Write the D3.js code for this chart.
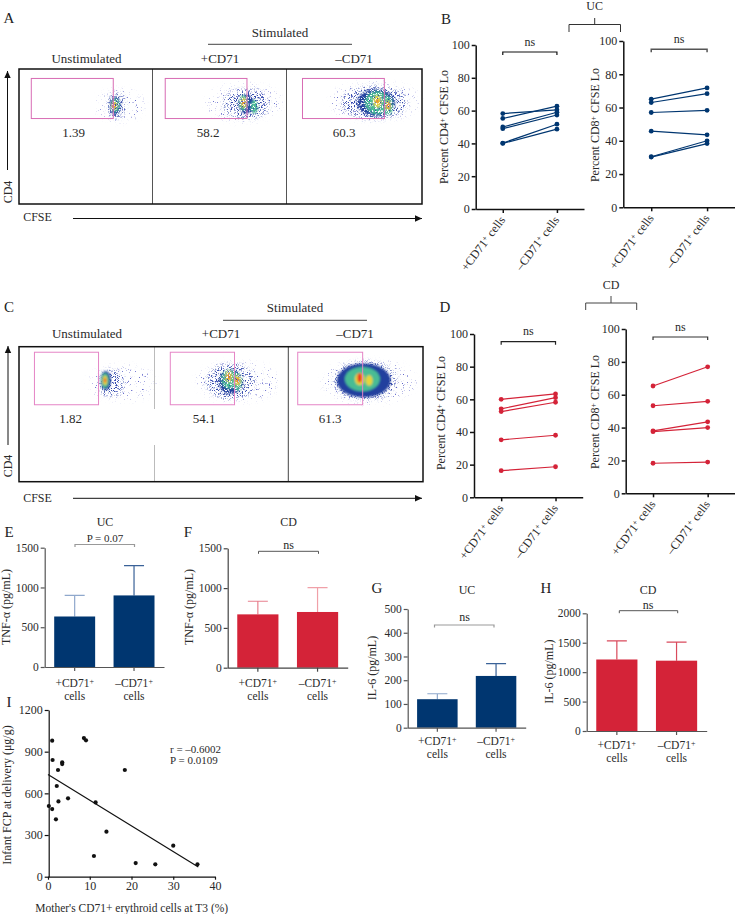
<!DOCTYPE html>
<html lang="en">
<head>
<meta charset="utf-8">
<title>CD71 erythroid cells figure</title>
<script src="https://d3js.org/d3.v7.min.js"></script>
<style>
body { margin: 0; background: #fff; }
svg { display: block; }
text { font-family: "Liberation Serif", serif; fill: #2a2a2a; font-size: 12px; }
.tick text { font-size: 12px; }
.small text, .small .tick text { font-size: 11.5px; }
.letter { font-size: 15px; fill: #222; }
</style>
</head>
<body>
<svg id="fig" width="735" height="914"></svg>
<script>
// categories
var cellTypes = ["+CD71", "-CD71"];
var flowTitles = ["Unstimulated", "+CD71", "\u2013CD71"];

// B / D paired values
var ucCd4Plus  = [58.2, 55.2, 50, 49, 40.2, 40];
var ucCd4Minus = [60.5, 62.7, 59, 57.3, 51.7, 48.7];
var ucCd8Plus  = [65, 63, 57, 45.8, 30.4, 30.2];
var ucCd8Minus = [71.8, 68.3, 58.3, 43.6, 40, 38.3];
var cdCd4Plus  = [60, 54.2, 52.5, 35.2, 16.3];
var cdCd4Minus = [63.3, 61, 58.2, 38, 18.7];
var cdCd8Plus  = [65.3, 53.3, 38, 37.5, 18.3];
var cdCd8Minus = [77, 56, 43.5, 40, 19];

// E-H mean and upper error
var tnfUcMean = [635, 900], tnfUcErr = [900, 1275];
var tnfCdMean = [670, 700], tnfCdErr = [835, 1005];
var il6UcMean = [120, 218], il6UcErr = [143, 270];
var il6CdMean = [1215, 1195], il6CdErr = [1530, 1510];

// I scatter
var t3Cells = [0.2, 1, 1.1, 1, 1.9, 2.1, 2.4, 2.5, 3.4, 3.4, 4.8, 8.6, 9.1, 11, 11.4, 14, 18.4, 21, 25.7, 30, 35.8];
var infantFcp = [509, 979, 840, 487, 413, 653, 768, 542, 823, 811, 564, 998, 982, 149, 535, 324, 768, 98, 89, 223, 89];
var fitX = [0, 36], fitY = [735, 70];

// flow gates: cfse low, cfse high, cd4 low, cd4 high (percent of each plot)
var gatesA = [[9.2, 70.6, 63.3, 93], [9.5, 70.5, 63.3, 93], [11.8, 72.2, 63.3, 93]];
var gatesC = [[11.4, 58.7, 57, 95.9], [11.8, 59.8, 57, 95.9], [7, 55.2, 57, 95.9]];
var percentsA = ["1.39", "58.2", "60.3"];
var percentsC = ["1.82", "54.1", "61.3"];

// flow populations as density contours: cfse, cd4, spread cfse, spread cd4, level
var flowA = [
  [[76, 73, 17, 11, 0], [73, 73, 6.5, 9.5, 1], [72, 73, 4, 7, 2], [72, 73, 3, 5, 3], [71.5, 73, 1.8, 2.8, 4], [71, 73, 0.9, 1.4, 5]],
  [[68, 75, 27, 13, 0], [70, 74, 17, 11, 1], [70, 74, 6, 7, 2], [76, 72, 2.6, 5, 3], [68, 75, 3.2, 5.5, 3], [68, 75, 1.8, 3.5, 4], [68, 75, 0.8, 1.6, 5]],
  [[65, 76, 33, 13, 0], [65, 75, 24, 12, 1], [66, 75, 14, 10, 2], [67, 75, 9, 8.5, 3], [75, 73, 3.5, 7, 3], [67, 76, 2.8, 4.5, 4], [75, 73, 1.8, 3.4, 4], [75, 73, 1, 2, 5], [67, 76, 0.8, 1.4, 5]]
];
var flowC = [
  [[76, 73, 24, 12, 0], [68, 73, 9, 10, 1], [64, 75, 3.8, 7, 2], [63.5, 75, 2.8, 5.5, 3], [63.5, 75, 1.6, 3.4, 4], [63.5, 75, 0.8, 1.6, 5]],
  [[62, 74, 30, 14, 0], [57, 74, 18, 13, 1], [57, 74, 9, 9, 2], [56, 76, 6, 7, 3], [62, 74, 3.5, 6.5, 3], [55.5, 78, 2.2, 4.2, 4], [62, 75, 2.2, 3.6, 4], [55.5, 78, 0.9, 2.2, 5], [62, 75, 0.9, 1.8, 5]],
  [[60, 74, 34, 15, 0], [57, 75, 23, 14, 1], [56, 75, 20, 12.5, 2], [55, 76, 13, 9, 3], [53, 76, 3.6, 4.5, 4], [60, 75, 2.6, 4, 4], [53, 77, 1.7, 3.6, 5]]
];

var svg = d3.select("#fig");
var navy = "#003670", red = "#d42338";
var levelColor = d3.scaleOrdinal().domain([0, 1, 2, 3, 4, 5])
  .range(["#5a5fc8", "#3348ac", "#24409e", "#48bc94", "#e6d53a", "#ec3520"]);

// grainy layers for the cell dots
var defs = svg.append("defs");
function grain(id, cut, blur, seed) {
  var f = defs.append("filter").attr("id", id).attr("filterUnits", "userSpaceOnUse")
    .attr("x", 0).attr("y", 0).attr("width", 735).attr("height", 914);
  f.append("feGaussianBlur").attr("in", "SourceGraphic").attr("stdDeviation", blur).attr("result", "b");
  f.append("feTurbulence").attr("type", "fractalNoise").attr("baseFrequency", 0.85).attr("numOctaves", 2).attr("seed", seed).attr("result", "n");
  f.append("feColorMatrix").attr("in", "n").attr("type", "matrix")
    .attr("values", "0 0 0 0 0  0 0 0 0 0  0 0 0 0 0  9 0 0 0 " + cut).attr("result", "m");
  f.append("feComposite").attr("in", "b").attr("in2", "m").attr("operator", "in");
}
grain("sparse", -5.9, 3, 4);
grain("dense", -4.9, 2, 9);
grain("mottled", -3.4, 1, 6);
defs.append("filter").attr("id", "soft").append("feGaussianBlur").attr("stdDeviation", 1.1);

function label(x, y, str, opts) {
  opts = opts || {};
  var t = svg.append("text").attr("x", x).attr("y", y).attr("text-anchor", opts.anchor || "middle").text(str);
  if (opts.size) t.style("font-size", opts.size + "px");
  if (opts.cls) t.attr("class", opts.cls);
  return t;
}

function vlabel(x, y, parts, size) {
  var t = svg.append("text").attr("transform", "translate(" + x + "," + y + ") rotate(-90)").attr("text-anchor", "middle");
  if (size) t.style("font-size", size + "px");
  parts.forEach(function(p) {
    var s = t.append("tspan").text(p[0]);
    if (p[1]) s.style("font-size", "8px").attr("dy", -3);
    else if (p[2]) s.attr("dy", 3);
  });
}

function arrow(x1, y1, x2, y2) {
  svg.append("line").attr("x1", x1).attr("y1", y1).attr("x2", x2).attr("y2", y2)
    .attr("stroke", "#111").attr("stroke-width", 1);
  var a = Math.atan2(y2 - y1, x2 - x1);
  var p = [[0, 0], [-7, -3.2], [-7, 3.2]].map(function(d) {
    return [x2 + d[0] * Math.cos(a) - d[1] * Math.sin(a), y2 + d[0] * Math.sin(a) + d[1] * Math.cos(a)];
  });
  svg.append("polygon").attr("points", p.join(" ")).attr("fill", "#111");
}

function blobs(g, x, y, rows) {
  g.selectAll("ellipse").data(rows).enter().append("ellipse")
    .attr("cx", function(d) { return x(d[0]); }).attr("cy", function(d) { return y(d[1]); })
    .attr("rx", function(d) { return x(d[2]) - x(0); }).attr("ry", function(d) { return y(0) - y(d[3]); })
    .attr("fill", function(d) { return levelColor(d[4]); });
}

// one row of three flow plots with a shared frame
function flowRow(left, top, right, bottom, dividers, gates, pops, percents, titleY, titleXs, pctY, pctXs, gateColor, coreFilters) {
  var edges = [left].concat(dividers.map(function(d) { return d.x; })).concat([right]);
  pops.forEach(function(pop, i) {
    var x = d3.scaleLinear().domain([0, 100]).range([edges[i], edges[i + 1]]);
    var y = d3.scaleLinear().domain([0, 100]).range([bottom, top]);
    var g = svg.append("g");
    [["sparse", 0], ["dense", 1]].forEach(function(l) {
      blobs(g.append("g").attr("filter", "url(#" + l[0] + ")"), x, y, pop.filter(function(d) { return d[4] === l[1]; }));
    });
    blobs(g.append("g").attr("filter", "url(#" + coreFilters[i] + ")"), x, y, pop.filter(function(d) { return d[4] > 1; }));
    var gt = gates[i];
    svg.append("rect").attr("x", x(gt[0])).attr("y", y(gt[3]))
      .attr("width", x(gt[1]) - x(gt[0])).attr("height", y(gt[2]) - y(gt[3]))
      .attr("fill", "none").attr("stroke", gateColor).attr("stroke-width", 1);
    label(titleXs[i], titleY, flowTitles[i], { size: 13 });
    label(pctXs[i], pctY, percents[i], { size: 13 });
  });
  dividers.forEach(function(d) {
    d.spans.forEach(function(s) {
      svg.append("line").attr("x1", d.x).attr("x2", d.x).attr("y1", s[0]).attr("y2", s[1])
        .attr("stroke", d.color).attr("stroke-width", 1);
    });
  });
  svg.append("rect").attr("x", left).attr("y", top).attr("width", right - left).attr("height", bottom - top)
    .attr("fill", "none").attr("stroke", "#111").attr("stroke-width", 1.5);
}

function bracket(x1, x2, y, drop, color, width) {
  svg.append("path").attr("d", "M" + x1 + "," + (y + drop) + "V" + y + "H" + x2 + "V" + (y + drop))
    .attr("fill", "none").attr("stroke", color).attr("stroke-width", width);
}

function yAxis(g, y, ticks, axisColor, w) {
  var a = g.call(d3.axisLeft(y).tickValues(ticks).tickFormat(d3.format("d")).tickSize(4).tickSizeOuter(0).tickPadding(2));
  a.selectAll("path,line").attr("stroke", axisColor).attr("stroke-width", w);
  a.selectAll("text").attr("fill", "#333");
}

// paired before/after panel, B and D
function pairPanel(x0, x1, y100, y0, plus, minus, color, cdNum, yLabelX, yLabelY, brY, brColor, brW) {
  var x = d3.scalePoint().domain(cellTypes).range([x0, x1]).padding(0.5);
  var y = d3.scaleLinear().domain([0, 100]).range([y0, y100]);
  var g = svg.append("g");
  yAxis(g.append("g").attr("transform", "translate(" + x0 + ",0)"), y, [0, 20, 40, 60, 80, 100], "#111", 1.5);
  var ax = g.append("g").attr("transform", "translate(0," + y0 + ")")
    .call(d3.axisBottom(x).tickSize(4).tickSizeOuter(0).tickFormat(""));
  ax.selectAll("path,line").attr("stroke", "#111").attr("stroke-width", 1.5);

  var line = d3.line().x(function(d) { return x(d[0]); }).y(function(d) { return y(d[1]); });
  plus.forEach(function(v, i) {
    var pts = [[cellTypes[0], v], [cellTypes[1], minus[i]]];
    g.append("path").attr("d", line(pts)).attr("fill", "none").attr("stroke", color).attr("stroke-width", 1.2);
    g.selectAll(null).data(pts).enter().append("circle")
      .attr("cx", function(d) { return x(d[0]); }).attr("cy", function(d) { return y(d[1]); })
      .attr("r", 2.4).attr("fill", color);
  });

  cellTypes.forEach(function(c, i) {
    var t = g.append("text").attr("text-anchor", "end")
      .attr("transform", "translate(" + (x(c) + 3) + "," + (y0 + 11) + ") rotate(-53)");
    t.append("tspan").text((i ? "\u2013" : "+") + "CD71");
    t.append("tspan").text("+").style("font-size", "8px").attr("dy", -3);
    t.append("tspan").text(" cells").attr("dy", 3);
  });

  vlabel(yLabelX, yLabelY, [["Percent CD" + cdNum], ["+", 1], [" CFSE Lo", 0, 1]]);
  bracket(x(cellTypes[0]), x(cellTypes[1]), brY, 3, brColor, brW);
  label((x(cellTypes[0]) + x(cellTypes[1])) / 2, brY - 6.5, "ns");
}

// mean with upper error bar, E to H
function barPanel(x0, x1, yTop, y0, maxV, ticks, means, errs, color, errColors, axisColor, yLabelStr, yLabelX, yLabelY, catY) {
  var x = d3.scaleBand().domain(cellTypes).range([x0, x1]).paddingInner(0.31).paddingOuter(0.16);
  var y = d3.scaleLinear().domain([0, maxV]).range([y0, yTop]);
  var g = svg.append("g").attr("class", "small");
  cellTypes.forEach(function(c, i) {
    var cx = x(c) + x.bandwidth() / 2;
    g.append("path").attr("d", "M" + cx + "," + y(means[i]) + "V" + y(errs[i]) + "M" + (cx - 10) + "," + y(errs[i]) + "H" + (cx + 10))
      .attr("fill", "none").attr("stroke", errColors[i]).attr("stroke-width", 1.2);
    var tx = g.append("text").attr("x", cx).attr("y", catY).attr("text-anchor", "middle");
    tx.append("tspan").text((i ? "\u2013" : "+") + "CD71");
    tx.append("tspan").text("+").style("font-size", "8px").attr("dy", -3);
    g.append("text").attr("x", cx).attr("y", catY + 13).attr("text-anchor", "middle").text("cells");
  });
  g.selectAll("rect").data(means).enter().append("rect")
    .attr("x", function(d, i) { return x(cellTypes[i]); })
    .attr("y", function(d) { return y(d); })
    .attr("width", x.bandwidth())
    .attr("height", function(d) { return y0 - y(d); })
    .attr("fill", color);
  yAxis(g.append("g").attr("transform", "translate(" + x0 + ",0)"), y, ticks, axisColor, 1.2);
  var ax = g.append("g").attr("transform", "translate(0," + y0 + ")")
    .call(d3.axisBottom(x).tickSize(4).tickSizeOuter(0).tickFormat(""));
  ax.selectAll("path,line").attr("stroke", axisColor).attr("stroke-width", 1.2);
  vlabel(yLabelX, yLabelY, [[yLabelStr]]);
}

// ---- panel A ----
label(9, 23, "A", { cls: "letter" });
label(280, 36.5, "Stimulated", { size: 13 });
svg.append("line").attr("x1", 208).attr("x2", 352).attr("y1", 44.3).attr("y2", 44.3).attr("stroke", "#444");
flowRow(19, 69, 422, 204,
  [{ x: 152.5, color: "#555", spans: [[69, 204]] }, { x: 286.5, color: "#555", spans: [[69, 204]] }],
  gatesA, flowA, percentsA, 63, [86.5, 220, 354], 136.5, [73.5, 208, 344], "#d86cb4", ["mottled", "mottled", "mottled"]);
arrow(7.5, 170, 7.5, 71);
vlabel(12, 192, [["CD4"]]);
label(37.5, 221, "CFSE");
arrow(73, 218.5, 422, 218.5);

// ---- panel C ----
label(9, 312, "C", { cls: "letter" });
label(295, 312, "Stimulated", { size: 13 });
svg.append("line").attr("x1", 223).attr("x2", 367).attr("y1", 320.3).attr("y2", 320.3).attr("stroke", "#444");
flowRow(19, 346.7, 423, 481.7,
  [{ x: 154.5, color: "#bbb", spans: [[346.7, 409], [445, 481.7]] }, { x: 288.3, color: "#444", spans: [[346.7, 481.7]] }],
  gatesC, flowC, percentsC, 338, [87, 221, 355], 423, [70.7, 204, 330], "#e585c6", ["soft", "mottled", "soft"]);
arrow(8, 445, 8, 346);
vlabel(12, 466, [["CD4"]]);
label(37.5, 502, "CFSE");
arrow(73, 498.3, 422, 498.3);

// ---- panel B ----
label(446, 24, "B", { cls: "letter" });
label(594.7, 10, "UC");
svg.append("path").attr("d", "M569,32V24.5H620.5V32M594.7,24.5V18").attr("fill", "none").attr("stroke", "#333");
pairPanel(475.7, 584, 45, 209, ucCd4Plus, ucCd4Minus, navy, 4, 448, 127, 52, "#111", 1.2);
pairPanel(623.3, 735, 41, 207.3, ucCd8Plus, ucCd8Minus, navy, 8, 599, 125, 49.3, "#555", 1.5);

// ---- panel D ----
label(445, 312, "D", { cls: "letter" });
label(611, 289, "CD");
svg.append("path").attr("d", "M585.7,310V303H636.7V310M611,303V296").attr("fill", "none").attr("stroke", "#444");
pairPanel(474, 582.7, 334, 497.3, cdCd4Plus, cdCd4Minus, red, 4, 445, 413, 341.7, "#222", 1.2);
pairPanel(625.7, 735, 329, 493.3, cdCd8Plus, cdCd8Minus, red, 8, 599, 412, 337, "#333", 1.2);

// ---- panels E-H ----
label(9, 537, "E", { cls: "letter" });
label(105, 526, "UC");
label(105, 542, "P = 0.07", { size: 11 });
bracket(75, 134.5, 544.5, 2.5, "#999", 1.2);
barPanel(44.7, 164, 547.7, 667, 1500, [0, 500, 1000, 1500], tnfUcMean, tnfUcErr, navy, ["#8fa8cc", "#3a6298"], "#555", "TNF-\u03b1 (pg/mL)", 10, 607, 687);

label(188, 537, "F", { cls: "letter" });
label(288.5, 526, "CD");
label(288.5, 549, "ns");
bracket(258.5, 318.5, 551.3, 2.5, "#555", 1);
barPanel(227.7, 347.7, 548.3, 667.7, 1500, [0, 500, 1000, 1500], tnfCdMean, tnfCdErr, red, ["#e8808e", "#f0a0a8"], "#444", "TNF-\u03b1 (pg/mL)", 193, 607, 687);

label(377, 593, "G", { cls: "letter" });
label(467, 593.5, "UC");
label(464.5, 621, "ns");
bracket(434.5, 494, 625, 2.5, "#999", 1.2);
barPanel(407.7, 525.7, 609, 727.7, 500, [0, 100, 200, 300, 400, 500], il6UcMean, il6UcErr, navy, ["#8fa8cc", "#3a6298"], "#555", "IL-6 (pg/mL)", 376, 668, 745);

label(546, 593, "H", { cls: "letter" });
label(648, 593.5, "CD");
label(648, 609, "ns");
bracket(619.3, 677.7, 610.7, 2.5, "#555", 1);
barPanel(586.7, 706.7, 613.3, 731, 2000, [0, 500, 1000, 1500, 2000], il6CdMean, il6CdErr, red, ["#d94a5c", "#d94a5c"], "#555", "IL-6 (pg/mL)", 553, 671.7, 749);

// ---- panel I ----
label(9, 707, "I", { cls: "letter" });
var ix = d3.scaleLinear().domain([0, 40]).range([48, 215]);
var iy = d3.scaleLinear().domain([0, 1200]).range([876.7, 710]);
var gi = svg.append("g");
yAxis(gi.append("g").attr("transform", "translate(48.7,0)"), iy, [0, 300, 600, 900, 1200], "#111", 1.2);
var ixAxis = gi.append("g").attr("transform", "translate(0,876.7)")
  .call(d3.axisBottom(ix).tickValues([0, 10, 20, 30, 40]).tickSize(3).tickSizeOuter(0).tickPadding(2));
ixAxis.selectAll("path,line").attr("stroke", "#111").attr("stroke-width", 1.2);
gi.append("line").attr("x1", ix(fitX[0])).attr("y1", iy(fitY[0])).attr("x2", ix(fitX[1])).attr("y2", iy(fitY[1]))
  .attr("stroke", "#111").attr("stroke-width", 1.2);
gi.selectAll("circle").data(t3Cells).enter().append("circle")
  .attr("cx", function(d) { return ix(d); })
  .attr("cy", function(d, i) { return iy(infantFcp[i]); })
  .attr("r", 2.1).attr("fill", "#111");
label(170, 753, "r = \u20130.6002", { anchor: "start", size: 11 });
label(170, 764, "P = 0.0109", { anchor: "start", size: 11 });
vlabel(11, 795, [["Infant FCP at delivery (\u03bcg/g)"]], 12);
label(131.7, 912, "Mother's CD71+ erythroid cells at T3 (%)", { size: 11.5 });
</script>
</body>
</html>
